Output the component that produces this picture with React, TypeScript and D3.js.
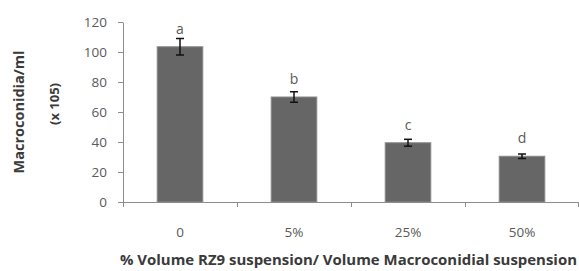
import * as d3 from "d3";
import { useEffect, useRef } from "react";

const categories = ["0", "5%", "25%", "50%"];
const means = [103.5, 70, 39.5, 30.5];
const errors = [5.5, 3.5, 2.3, 1.5];
const letters = ["a", "b", "c", "d"];
const yTicks = [0, 20, 40, 60, 80, 100, 120];

const App = () => {
  const svgRef = useRef<SVGSVGElement>(null);

  useEffect(() => {
    const svg = d3.select(svgRef.current);
    svg.selectAll("*").remove();

    const width = 579;
    const height = 271;
    const left = 123;
    const right = 579;
    const top = 22;
    const bottom = 202;
    const font = "'Open Sans', sans-serif";
    const axisColor = "#8c8c8c";
    const textColor = "#5a5a5a";

    svg.attr("width", width).attr("height", height);

    const x = d3
      .scaleBand()
      .domain(categories)
      .range([left, right])
      .paddingInner(0.6)
      .paddingOuter(0.3);

    const y = d3.scaleLinear().domain([0, 120]).range([bottom, top]);

    // Y axis
    const yAxis = svg
      .append("g")
      .attr("transform", `translate(${left},0)`)
      .call(
        d3
          .axisLeft(y)
          .tickValues(yTicks)
          .tickSize(5)
          .tickPadding(11)
          .tickSizeOuter(0)
      );
    yAxis.select(".domain").attr("stroke", axisColor);
    yAxis.selectAll(".tick line").attr("stroke", axisColor);
    yAxis
      .selectAll(".tick text")
      .attr("fill", textColor)
      .style("font-family", font)
      .style("font-size", "13.5px");

    // X axis line and boundary ticks
    const xg = svg.append("g");
    xg.append("line")
      .attr("x1", left)
      .attr("x2", right)
      .attr("y1", bottom + 0.5)
      .attr("y2", bottom + 0.5)
      .attr("stroke", axisColor);
    const step = x.step();
    xg.selectAll(".xtick")
      .data(d3.range(categories.length + 1))
      .enter()
      .append("line")
      .attr("x1", (i) => left + i * step - (i === categories.length ? 1 : 0) + 0.5)
      .attr("x2", (i) => left + i * step - (i === categories.length ? 1 : 0) + 0.5)
      .attr("y1", bottom)
      .attr("y2", bottom + 5)
      .attr("stroke", axisColor);

    xg.selectAll(".xlabel")
      .data(categories)
      .enter()
      .append("text")
      .attr("x", (d) => (x(d) || 0) + x.bandwidth() / 2)
      .attr("y", 237)
      .attr("text-anchor", "middle")
      .attr("fill", textColor)
      .style("font-family", font)
      .style("font-size", "13.5px")
      .text((d) => d);

    // Bars
    svg
      .append("g")
      .selectAll("rect")
      .data(categories)
      .enter()
      .append("rect")
      .attr("x", (d) => x(d) || 0)
      .attr("y", (d, i) => y(means[i]))
      .attr("width", x.bandwidth())
      .attr("height", (d, i) => bottom - y(means[i]))
      .attr("fill", "#666666")
      .attr("stroke", "#8a8a8a")
      .attr("stroke-width", 1);

    // Error bars
    const eg = svg.append("g").attr("stroke", "#111").attr("stroke-width", 1.5);
    categories.forEach((c, i) => {
      const cx = (x(c) || 0) + x.bandwidth() / 2;
      const y1 = y(means[i] + errors[i]);
      const y2 = y(means[i] - errors[i]);
      eg.append("line").attr("x1", cx).attr("x2", cx).attr("y1", y1).attr("y2", y2);
      eg.append("line").attr("x1", cx - 4).attr("x2", cx + 4).attr("y1", y1).attr("y2", y1);
      eg.append("line").attr("x1", cx - 4).attr("x2", cx + 4).attr("y1", y2).attr("y2", y2);
    });

    // Significance letters
    svg
      .append("g")
      .selectAll("text")
      .data(categories)
      .enter()
      .append("text")
      .attr("x", (d) => (x(d) || 0) + x.bandwidth() / 2)
      .attr("y", (d, i) => y(means[i]) - 13)
      .attr("text-anchor", "middle")
      .attr("fill", textColor)
      .style("font-family", font)
      .style("font-size", "14px")
      .text((d, i) => letters[i]);

    // Y axis title
    svg
      .append("text")
      .attr("transform", "translate(24,112) rotate(-90)")
      .attr("text-anchor", "middle")
      .attr("fill", "#3a3a3a")
      .style("font-family", font)
      .style("font-size", "14.5px")
      .style("font-weight", "bold")
      .text("Macroconidia/ml");

    svg
      .append("text")
      .attr("transform", "translate(59,104) rotate(-90)")
      .attr("text-anchor", "middle")
      .attr("fill", "#3a3a3a")
      .style("font-family", font)
      .style("font-size", "13px")
      .style("font-weight", "bold")
      .text("(x 105)");

    // X axis title
    svg
      .append("text")
      .attr("x", 120)
      .attr("y", 265)
      .attr("fill", "#3a3a3a")
      .attr("textLength", 457)
      .attr("lengthAdjust", "spacingAndGlyphs")
      .style("font-family", font)
      .style("font-size", "14px")
      .style("font-weight", "bold")
      .text("% Volume RZ9 suspension/ Volume Macroconidial suspension");
  }, []);

  return <svg ref={svgRef} style={{ position: "absolute", left: 0, top: 0 }}></svg>;
};

export default App;
